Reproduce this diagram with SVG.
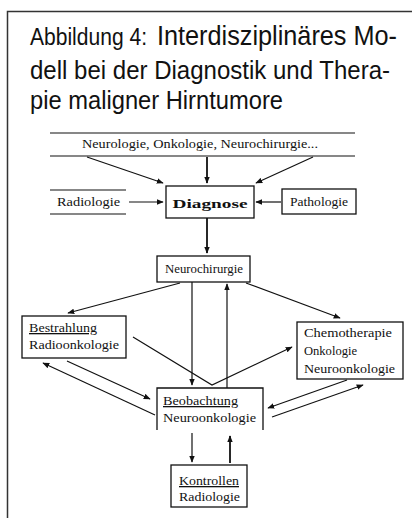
<svg xmlns="http://www.w3.org/2000/svg" width="412" height="518" viewBox="0 0 412 518">
<style>
.t{font-family:"Liberation Sans",Arial,sans-serif;fill:#111}
.s{font-family:"Liberation Serif","Times New Roman",serif;font-size:13px;fill:#111}
.b{fill:#fff;stroke:#111;stroke-width:1.3}
.l{fill:none;stroke:#111;stroke-width:1.2}
.k{fill:none;stroke:#111;stroke-width:1.8}
</style>
<defs>
<marker id="a" viewBox="0 0 10 10" refX="9" refY="5" markerWidth="7" markerHeight="7" markerUnits="userSpaceOnUse" orient="auto"><path d="M0,1 L10,5 L0,9 Z" fill="#111"/></marker>
</defs>
<rect width="412" height="518" fill="#fff"/>
<path d="M7.5,518 V11.5 H412" fill="none" stroke="#333" stroke-width="1.5"/>
<g id="title">
<text class="t" transform="translate(30,45) scale(1,1.1)" font-size="21" textLength="117" lengthAdjust="spacingAndGlyphs">Abbildung 4:</text>
<text class="t" transform="translate(157,45) scale(1,1.1)" font-size="25" textLength="240" lengthAdjust="spacingAndGlyphs">Interdisziplinäres Mo-</text>
<text class="t" transform="translate(30,79) scale(1,1.05)" font-size="24.5" textLength="360" lengthAdjust="spacingAndGlyphs">dell bei der Diagnostik und Thera-</text>
<text class="t" transform="translate(30,109) scale(1,1.05)" font-size="24.5" textLength="253" lengthAdjust="spacingAndGlyphs">pie maligner Hirntumore</text>
</g>
<g id="connectors">
<path class="l" d="M87,157 L163,183" marker-end="url(#a)"/>
<path class="k" d="M207,157 V183" marker-end="url(#a)"/>
<path class="l" d="M313,157 L256,183" marker-end="url(#a)"/>
<path class="l" d="M129,202 H163" marker-end="url(#a)"/>
<path class="l" d="M281,202 H256" marker-end="url(#a)"/>
<path class="k" d="M207,218 V253" marker-end="url(#a)"/>
<path class="l" d="M180,283 L68,313" marker-end="url(#a)"/>
<path class="l" d="M246,283 L340,318" marker-end="url(#a)"/>
<path class="l" d="M192,282 V385" marker-end="url(#a)"/>
<path class="l" d="M227,388 V284" marker-end="url(#a)"/>
<path class="l" d="M133,337 L212,385 L292,347" marker-end="url(#a)"/>
<path class="l" d="M67,361 L150,399" marker-end="url(#a)"/>
<path class="l" d="M155,415 L43,363" marker-end="url(#a)"/>
<path class="l" d="M347,380 L268,408" marker-end="url(#a)"/>
<path class="l" d="M272,417 L363,385" marker-end="url(#a)"/>
<path class="l" d="M192,433 V462" marker-end="url(#a)"/>
<path class="k" d="M230,463 V436" marker-end="url(#a)"/>
</g>
<g id="fachgebiete">
<path class="l" d="M50,133 H355 M50,156 H355"/>
<text class="s" x="200" y="148" text-anchor="middle" textLength="236" lengthAdjust="spacingAndGlyphs">Neurologie, Onkologie, Neurochirurgie...</text>
</g>
<g id="radiologie">
<path class="l" d="M50,190 H126 M50,214 H126"/>
<text class="s" x="57" y="206" textLength="63" lengthAdjust="spacingAndGlyphs">Radiologie</text>
</g>
<g id="diagnose">
<rect class="b" x="166" y="186" width="88" height="32"/>
<text class="s" x="210" y="208" text-anchor="middle" font-size="20" font-weight="bold" textLength="75" lengthAdjust="spacingAndGlyphs">Diagnose</text>
</g>
<g id="pathologie">
<rect class="b" x="282" y="189" width="74" height="25"/>
<text class="s" x="319" y="206" text-anchor="middle" textLength="58" lengthAdjust="spacingAndGlyphs">Pathologie</text>
</g>
<g id="neurochirurgie">
<rect class="b" x="157" y="256" width="93" height="26"/>
<text class="s" x="204" y="273" text-anchor="middle" textLength="78" lengthAdjust="spacingAndGlyphs">Neurochirurgie</text>
</g>
<g id="bestrahlung">
<rect class="b" x="22" y="316" width="104" height="42"/>
<text class="s" x="29" y="332" textLength="68" lengthAdjust="spacingAndGlyphs" text-decoration="underline">Bestrahlung</text>
<text class="s" x="29" y="349" textLength="90" lengthAdjust="spacingAndGlyphs">Radioonkologie</text>
</g>
<g id="chemotherapie">
<rect class="b" x="297" y="322" width="106" height="57"/>
<text class="s" x="304" y="337" textLength="88" lengthAdjust="spacingAndGlyphs">Chemotherapie</text>
<text class="s" x="304" y="355" textLength="53" lengthAdjust="spacingAndGlyphs">Onkologie</text>
<text class="s" x="304" y="373" textLength="91" lengthAdjust="spacingAndGlyphs">Neuroonkologie</text>
</g>
<g id="beobachtung">
<path class="b" d="M157,430 V388 H263 V430"/>
<text class="s" x="163" y="405" textLength="75" lengthAdjust="spacingAndGlyphs" text-decoration="underline">Beobachtung</text>
<text class="s" x="163" y="422" textLength="93" lengthAdjust="spacingAndGlyphs">Neuroonkologie</text>
</g>
<g id="kontrollen">
<rect class="b" x="171" y="465" width="76" height="42"/>
<text class="s" x="179" y="485" textLength="60" lengthAdjust="spacingAndGlyphs" text-decoration="underline">Kontrollen</text>
<text class="s" x="179" y="501" textLength="61" lengthAdjust="spacingAndGlyphs">Radiologie</text>
</g>
</svg>
